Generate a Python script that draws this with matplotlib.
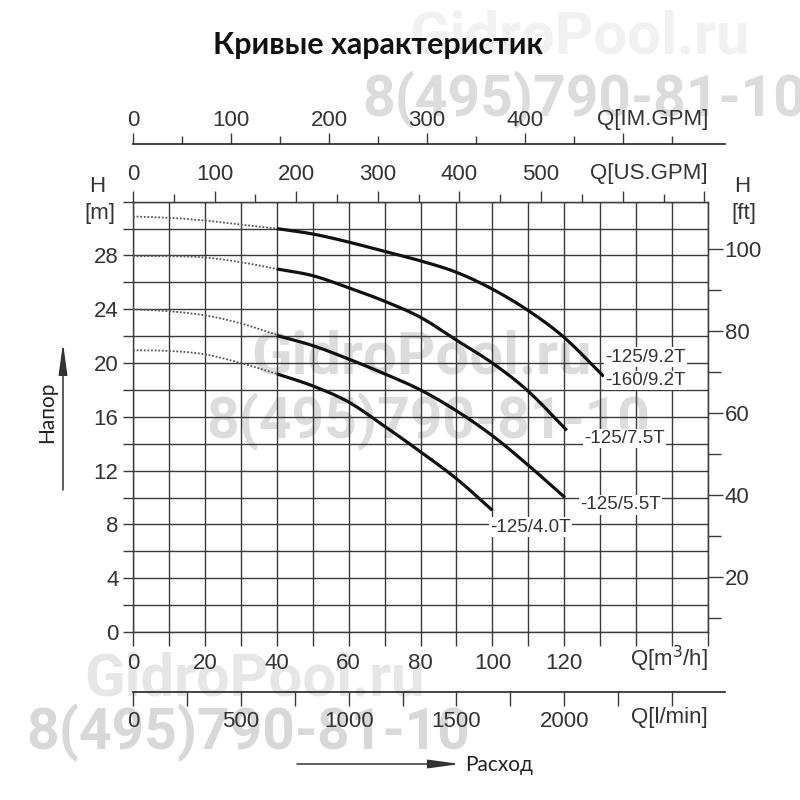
import numpy as np
import matplotlib
matplotlib.use("Agg")
import matplotlib.pyplot as plt
from matplotlib.ticker import FixedLocator, FuncFormatter, NullFormatter

# ---------------- data ----------------
q_dotted = [0, 10, 20, 30, 40]
h_dot_92 = [30.9, 30.8, 30.6, 30.3, 30.0]
h_dot_75 = [27.95, 27.95, 27.85, 27.5, 27.0]
h_dot_55 = [24.0, 23.85, 23.55, 22.95, 22.1]
h_dot_40 = [20.95, 20.9, 20.65, 20.0, 19.2]

q_solid_92 = [40, 50, 60, 70, 80, 90, 100, 110, 120, 131]
h_solid_92 = [30.0, 29.6, 29.0, 28.3, 27.6, 26.75, 25.5, 23.9, 21.9, 19.0]
q_solid_75 = [40, 50, 60, 70, 80, 90, 100, 110, 120.7]
h_solid_75 = [27.0, 26.5, 25.6, 24.6, 23.4, 21.7, 20.0, 17.9, 15.0]
q_solid_55 = [40, 50, 60, 70, 80, 90, 100, 110, 120.2]
h_solid_55 = [22.05, 21.3, 20.3, 19.2, 18.0, 16.45, 14.6, 12.4, 10.0]
q_solid_40 = [40, 50, 60, 70, 80, 90, 100]
h_solid_40 = [19.2, 18.3, 17.1, 15.3, 13.4, 11.4, 9.05]

labels = ["-125/9.2T", "-160/9.2T", "-125/7.5T", "-125/5.5T", "-125/4.0T"]

m3h_ticks = list(range(0, 161, 10))
m3h_labels = [0, 20, 40, 60, 80, 100, 120]
m_ticks = list(range(0, 33, 2))
m_labels = [0, 4, 8, 12, 16, 20, 24, 28]
ft_major = [20, 40, 60, 80, 100]
ft_minor = [10, 30, 50, 70, 90]
usgpm_major = [0, 100, 200, 300, 400, 500, 600, 700]
usgpm_minor = [50, 150, 250, 350, 450, 550, 650]
usgpm_labels = [0, 100, 200, 300, 400, 500]
imgpm_major = [0, 100, 200, 300, 400, 500]
imgpm_minor = [50, 150, 250, 350, 450, 550]
imgpm_labels = [0, 100, 200, 300, 400]
lmin_ticks = list(range(0, 2501, 250))
lmin_labels = [0, 500, 1000, 1500, 2000]

US_PER_M3H = 4.403
IM_PER_M3H = 3.666
LMIN_PER_M3H = 16.667
FT_PER_M = 3.28
FT_OFFSET_M = 2.03

# ---------------- style ----------------
W = H = 800
TXT = "#333333"
GRID = "#3a3a3a"
FS = 16
plt.rcParams["font.family"] = ["Liberation Sans", "DejaVu Sans"]


def fx(x):
    return x / W


def fy(y):
    return 1 - y / H


def smooth(xs, ys, n=20):
    """Catmull-Rom rendering through the read points (drawing only)."""
    p = np.column_stack([xs, ys]).astype(float)
    p = np.vstack([2 * p[0] - p[1], p, 2 * p[-1] - p[-2]])
    out = []
    t = np.linspace(0, 1, n, endpoint=False)[:, None]
    for i in range(1, len(p) - 2):
        p0, p1, p2, p3 = p[i - 1], p[i], p[i + 1], p[i + 2]
        seg = 0.5 * ((2 * p1) + (-p0 + p2) * t + (2 * p0 - 5 * p1 + 4 * p2 - p3) * t ** 2
                     + (-p0 + 3 * p1 - 3 * p2 + p3) * t ** 3)
        out.append(seg)
    out.append(p[-2][None, :])
    out = np.vstack(out)
    return out[:, 0], out[:, 1]


def fmt_only(allowed):
    return FuncFormatter(lambda v, p: f"{int(round(v))}" if int(round(v)) in allowed else "")


fig = plt.figure(figsize=(8, 8), dpi=100)
fig.patch.set_facecolor("white")

L, R, T, B = 133, 708, 201.7, 632
ax = fig.add_axes([fx(L), fy(B), (R - L) / W, (B - T) / H])
ax.set_facecolor("none")
ax.set_xlim(0, 160)
ax.set_ylim(0, 32)

ax.xaxis.set_major_locator(FixedLocator(m3h_ticks))
ax.xaxis.set_major_formatter(fmt_only(m3h_labels))
ax.yaxis.set_major_locator(FixedLocator(m_ticks))
ax.yaxis.set_major_formatter(fmt_only(m_labels))
ax.grid(True, color=GRID, lw=1.0)
for s in ax.spines.values():
    s.set_color(GRID)
    s.set_linewidth(1.0)
ax.tick_params(axis="x", direction="out", length=10, width=1.0, color=GRID, pad=5,
               labelsize=FS, labelcolor=TXT)
ax.tick_params(axis="y", direction="out", length=7.5, width=1.0, color=GRID, pad=3,
               labelsize=FS, labelcolor=TXT)
ax.tick_params(top=False, right=False)

# curves
dot_kw = dict(color="#555555", lw=1.3, ls=(0, (1, 1)))
sol_kw = dict(color="#111111", lw=2.3, solid_capstyle="butt")
for hd in (h_dot_92, h_dot_75, h_dot_55, h_dot_40):
    ax.plot(*smooth(q_dotted, hd), **dot_kw, zorder=3)
for qs, hs in ((q_solid_92, h_solid_92), (q_solid_75, h_solid_75),
               (q_solid_55, h_solid_55), (q_solid_40, h_solid_40)):
    ax.plot(*smooth(qs, hs), **sol_kw, zorder=4)

lab_kw = dict(fontsize=13.5, color=TXT, va="center", ha="left", zorder=5,
              bbox=dict(fc="white", ec="none", pad=1.0))
ax.text(131.3, 20.45, labels[0], **lab_kw)
ax.text(131.3, 18.7, labels[1], **lab_kw)
ax.text(125.5, 14.4, labels[2], **lab_kw)
ax.text(124.4, 9.45, labels[3], **lab_kw)
ax.text(99.3, 7.8, labels[4], **lab_kw)

# right ft axis
sec_r = ax.secondary_yaxis("right", functions=(lambda m: (m + FT_OFFSET_M) * FT_PER_M,
                                               lambda f: f / FT_PER_M - FT_OFFSET_M))
sec_r.yaxis.set_major_locator(FixedLocator(ft_major))
sec_r.yaxis.set_minor_locator(FixedLocator(ft_minor))
sec_r.yaxis.set_minor_formatter(NullFormatter())
sec_r.tick_params(which="major", length=11, width=1.0, color=GRID, pad=1, labelsize=FS, labelcolor=TXT)
sec_r.tick_params(which="minor", length=9, width=1.0, color=GRID)
sec_r.spines["right"].set_color(GRID)

# top US GPM axis
sec_t = ax.secondary_xaxis("top", functions=(lambda q: q * US_PER_M3H, lambda g: g / US_PER_M3H))
sec_t.xaxis.set_major_locator(FixedLocator(usgpm_major))
sec_t.xaxis.set_minor_locator(FixedLocator(usgpm_minor))
sec_t.xaxis.set_major_formatter(fmt_only(usgpm_labels))
sec_t.xaxis.set_minor_formatter(NullFormatter())
sec_t.tick_params(which="major", length=8, width=1.0, color=GRID, pad=4, labelsize=FS, labelcolor=TXT)
sec_t.tick_params(which="minor", length=6, width=1.0, color=GRID)
sec_t.spines["top"].set_color(GRID)

# IM GPM axis (separate line above)
LX2 = 725
qmax2 = (LX2 - L) / (R - L) * 160
ax_im = fig.add_axes([fx(L), fy(144), (LX2 - L) / W, 0.0001])
ax_im.set_facecolor("none")
ax_im.set_xlim(0, qmax2 * IM_PER_M3H)
for k, s in ax_im.spines.items():
    s.set_visible(k == "top")
ax_im.spines["top"].set_color("#222222")
ax_im.spines["top"].set_linewidth(1.2)
ax_im.set_yticks([])
ax_im.xaxis.tick_top()
ax_im.xaxis.set_major_locator(FixedLocator(imgpm_major))
ax_im.xaxis.set_minor_locator(FixedLocator(imgpm_minor))
ax_im.xaxis.set_major_formatter(fmt_only(imgpm_labels))
ax_im.xaxis.set_minor_formatter(NullFormatter())
ax_im.tick_params(which="major", length=8, width=1.0, color=GRID, pad=1.5, labelsize=FS, labelcolor=TXT)
ax_im.tick_params(which="minor", length=6, width=1.0, color=GRID)

# l/min axis (separate line below)
ax_l = fig.add_axes([fx(L), fy(692), (LX2 - L) / W, 0.0001])
ax_l.set_facecolor("none")
ax_l.set_xlim(0, qmax2 * LMIN_PER_M3H)
for k, s in ax_l.spines.items():
    s.set_visible(k == "bottom")
ax_l.spines["bottom"].set_color("#222222")
ax_l.spines["bottom"].set_linewidth(1.2)
ax_l.set_yticks([])
ax_l.xaxis.set_major_locator(FixedLocator(lmin_ticks))
ax_l.xaxis.set_major_formatter(fmt_only(lmin_labels))
ax_l.tick_params(which="major", length=10, width=1.0, color=GRID, pad=4, labelsize=FS, labelcolor=TXT)

# axis unit labels
ukw = dict(fontsize=FS, color=TXT, va="center")
fig.text(fx(708), fy(119), "Q[IM.GPM]", ha="right", **ukw)
fig.text(fx(708), fy(173), "Q[US.GPM]", ha="right", **ukw)
fig.text(fx(708), fy(659), "Q[m$^3$/h]", ha="right", **ukw)
fig.text(fx(708), fy(718), "Q[l/min]", ha="right", **ukw)
fig.text(fx(97), fy(187), "H", ha="center", **ukw)
fig.text(fx(100), fy(213), "[m]", ha="center", **ukw)
fig.text(fx(742), fy(187), "H", ha="center", **ukw)
fig.text(fx(744), fy(213), "[ft]", ha="center", **ukw)

# title
fig.text(fx(378), fy(45), "Кривые характеристик", ha="center", va="center",
         fontsize=22, fontweight="bold", family=["Lato", "DejaVu Sans"], color="#111111")

# axis name arrows
fig.text(fx(47), fy(412), "Напор", rotation=90, ha="center", va="center",
         fontsize=15, family=["Lato", "DejaVu Sans"], color="#222222")
fig.text(fx(465), fy(765), "Расход", ha="left", va="center",
         fontsize=15, family=["Lato", "DejaVu Sans"], color="#222222")
arr = dict(arrowstyle="-|>,head_length=1.6,head_width=0.22", color="#333333", lw=1.1,
           shrinkA=0, shrinkB=0, mutation_scale=12)
fig.add_artist(matplotlib.patches.FancyArrowPatch((fx(63), fy(490)), (fx(63), fy(343)),
                                                  transform=fig.transFigure, **arr))
fig.add_artist(matplotlib.patches.FancyArrowPatch((fx(297), fy(764)), (fx(460), fy(764)),
                                                  transform=fig.transFigure, **arr))

# watermarks
wm_kw = dict(ha="center", va="center", fontweight="bold",
             family=["Roboto", "DejaVu Sans"], zorder=-5)
fig.text(fx(580), fy(38), "GidroPool.ru", color="#f1f1f1", fontsize=43, **wm_kw)
fig.text(fx(584), fy(100), "8(495)790-81-10", color="#dcdcdc", fontsize=41, **wm_kw)
fig.text(fx(422), fy(358), "GidroPool.ru", color="#dcdcdc", fontsize=43, **wm_kw)
fig.text(fx(428), fy(422), "8(495)790-81-10", color="#dcdcdc", fontsize=41, **wm_kw)
fig.text(fx(255), fy(680), "GidroPool.ru", color="#e6e6e6", fontsize=43, **wm_kw)
fig.text(fx(248), fy(733), "8(495)790-81-10", color="#d8d8d8", fontsize=41, **wm_kw)

fig.savefig("out.png", dpi=100, facecolor="white")
